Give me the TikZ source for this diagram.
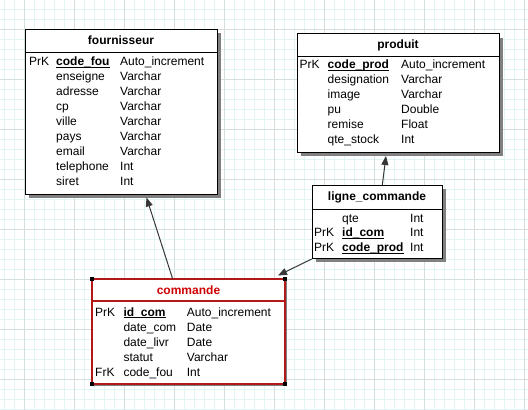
\documentclass[tikz,border=0pt]{standalone}
\usepackage{fontspec}
\setmainfont{Liberation Sans}
\usetikzlibrary{arrows.meta}
\definecolor{gridminor}{RGB}{226,245,245}
\definecolor{gridmajor}{RGB}{212,222,222}
\definecolor{shadowgray}{RGB}{128,128,128}
\definecolor{selred}{RGB}{178,24,24}
\definecolor{titlered}{RGB}{208,0,0}
\definecolor{linkgray}{RGB}{55,55,55}
\newcommand{\keyu}[1]{\setbox0\hbox{\bfseries #1}\rlap{\rule[-2.2pt]{\wd0}{1pt}}\box0}
\begin{document}
\begin{tikzpicture}[x=1pt,y=-1pt,
  font=\fontsize{12pt}{14pt}\selectfont,
  tbl/.style={draw=black, line width=1pt, fill=white, anchor=north west, inner sep=0pt, outer sep=0pt},
  shadowbox/.style={fill=shadowgray},
  ttl/.style={font=\fontsize{12pt}{14pt}\selectfont\bfseries, inner sep=0pt, text height=8.6pt, text depth=0pt},
  cell/.style={anchor=west, inner sep=0pt, text height=8.6pt, text depth=0pt},
  link/.style={draw=linkgray, line width=1pt, -{Triangle[length=9pt,width=7pt]}},
  handle/.style={fill=black, minimum size=4pt, inner sep=0pt}
]
\useasboundingbox (0,0) rectangle (528,410);
\fill[white] (0,0) rectangle (528,410);
% grid
\foreach \i in {0,...,52} \draw[gridminor, line width=1pt] (4+10*\i,0) -- (4+10*\i,410);
\foreach \i in {0,...,40} \draw[gridminor, line width=1pt] (0,9+10*\i) -- (528,9+10*\i);
\foreach \i in {0,...,10} \draw[gridmajor, line width=1pt] (24+50*\i,0) -- (24+50*\i,410);
\foreach \i in {0,...,7} \draw[gridmajor, line width=1pt] (0,29+50*\i) -- (528,29+50*\i);

% ---------- fournisseur ----------
\fill[shadowbox] (29,33) rectangle (221,198);
\node[tbl, minimum width=192pt, minimum height=165pt] (fou) at (25,29) {};
\draw[line width=1pt] (25,52) -- (217,52);
\node[ttl] (foutitle) at (121,40.5) {fournisseur};
\node[cell] (fou1k) at (29,61) {PrK};
\node[cell] (fou1n) at (56,61) {\keyu{code\_fou}};
\node[cell] (fou1t) at (120,61) {Auto\_increment};
\node[cell] (fou2n) at (56,76) {enseigne};
\node[cell] (fou2t) at (120,76) {Varchar};
\node[cell] (fou3n) at (56,91) {adresse};
\node[cell] (fou3t) at (120,91) {Varchar};
\node[cell] (fou4n) at (56,106) {cp};
\node[cell] (fou4t) at (120,106) {Varchar};
\node[cell] (fou5n) at (56,121) {ville};
\node[cell] (fou5t) at (120,121) {Varchar};
\node[cell] (fou6n) at (56,136) {pays};
\node[cell] (fou6t) at (120,136) {Varchar};
\node[cell] (fou7n) at (56,151) {email};
\node[cell] (fou7t) at (120,151) {Varchar};
\node[cell] (fou8n) at (56,166) {telephone};
\node[cell] (fou8t) at (120,166) {Int};
\node[cell] (fou9n) at (56,181) {siret};
\node[cell] (fou9t) at (120,181) {Int};

% ---------- produit ----------
\fill[shadowbox] (301,37.5) rectangle (503,156);
\node[tbl, minimum width=202pt, minimum height=118.5pt] (prod) at (297,33.5) {};
\draw[line width=1pt] (297,56) -- (499,56);
\node[ttl] (prodtitle) at (398,44) {produit};
\node[cell] (prod1k) at (299.5,64.5) {PrK};
\node[cell] (prod1n) at (327.5,64.5) {\keyu{code\_prod}};
\node[cell] (prod1t) at (401,64.5) {Auto\_increment};
\node[cell] (prod2n) at (327.5,79.5) {designation};
\node[cell] (prod2t) at (401,79.5) {Varchar};
\node[cell] (prod3n) at (327.5,94.5) {image};
\node[cell] (prod3t) at (401,94.5) {Varchar};
\node[cell] (prod4n) at (327.5,109.5) {pu};
\node[cell] (prod4t) at (401,109.5) {Double};
\node[cell] (prod5n) at (327.5,124.5) {remise};
\node[cell] (prod5t) at (401,124.5) {Float};
\node[cell] (prod6n) at (327.5,139.5) {qte\_stock};
\node[cell] (prod6t) at (401,139.5) {Int};

% ---------- ligne_commande ----------
\fill[shadowbox] (316,189) rectangle (446,262);
\node[tbl, minimum width=130pt, minimum height=73pt] (lig) at (312,185) {};
\draw[line width=1pt] (312,209.5) -- (442,209.5);
\node[ttl] (ligtitle) at (377,196) {ligne\_commande};
\node[cell] (lig1n) at (342,217.7) {qte};
\node[cell] (lig1t) at (410,217.7) {Int};
\node[cell] (lig2k) at (314,232.5) {PrK};
\node[cell] (lig2n) at (342,232.5) {\keyu{id\_com}};
\node[cell] (lig2t) at (410,232.5) {Int};
\node[cell] (lig3k) at (314,247.3) {PrK};
\node[cell] (lig3n) at (342,247.3) {\keyu{code\_prod}};
\node[cell] (lig3t) at (410,247.3) {Int};

% ---------- commande ----------
\fill[shadowbox] (93.5,280.5) rectangle (286.5,385.5);
\node[tbl, draw=selred, line width=1.5pt, minimum width=193pt, minimum height=105pt] (cmd) at (92,279) {};
\draw[selred, line width=1.5pt] (92,301) -- (285,301);
\node[ttl, text=titlered] (cmdtitle) at (188.5,290) {commande};
\node[cell] (cmd1k) at (95,311.7) {PrK};
\node[cell] (cmd1n) at (123.3,311.7) {\keyu{id\_com}};
\node[cell] (cmd1t) at (186.7,311.7) {Auto\_increment};
\node[cell] (cmd2n) at (123.3,326.7) {date\_com};
\node[cell] (cmd2t) at (186.7,326.7) {Date};
\node[cell] (cmd3n) at (123.3,341.7) {date\_livr};
\node[cell] (cmd3t) at (186.7,341.7) {Date};
\node[cell] (cmd4n) at (123.3,356.7) {statut};
\node[cell] (cmd4t) at (186.7,356.7) {Varchar};
\node[cell] (cmd5k) at (95,371.7) {FrK};
\node[cell] (cmd5n) at (123.3,371.7) {code\_fou};
\node[cell] (cmd5t) at (186.7,371.7) {Int};
\node[handle] (h1) at (cmd.north west) {};
\node[handle] (h2) at (cmd.north east) {};
\node[handle] (h3) at (cmd.south west) {};
\node[handle] (h4) at (cmd.south east) {};

% ---------- connectors ----------
\coordinate (c1s) at (172.7,279);
\coordinate (c1e) at (146.5,197.5);
\coordinate (c2s) at (382.3,185);
\coordinate (c2e) at (386,156);
\coordinate (c3s) at (311.7,259);
\coordinate (c3e) at (278,275.5);
\draw[link] (c1s) -- (c1e);
\draw[link] (c2s) -- (c2e);
\draw[link] (c3s) -- (c3e);
\end{tikzpicture}
\end{document}
